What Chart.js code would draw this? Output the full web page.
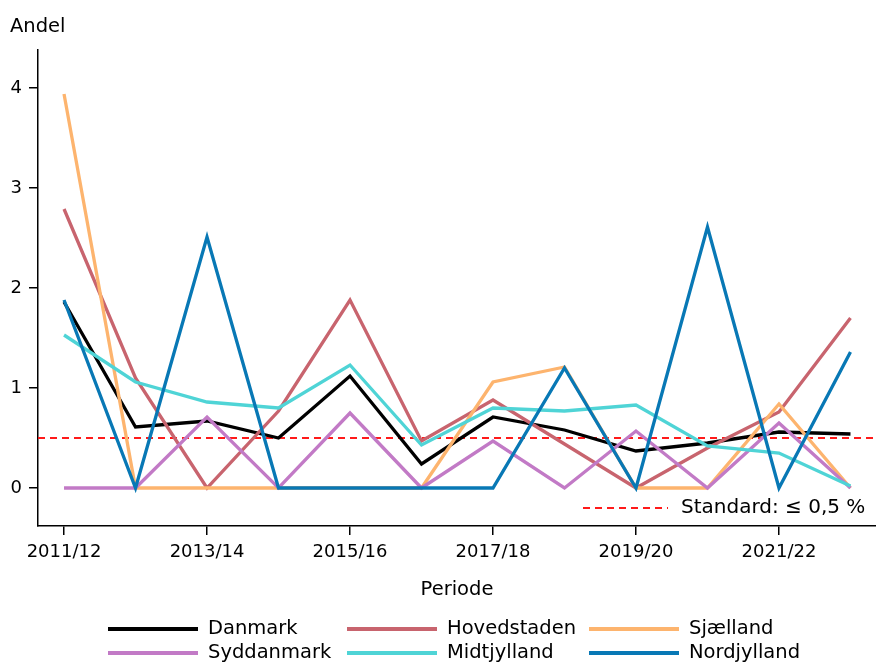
<!DOCTYPE html>
<html>
<head>
<meta charset="utf-8">
<script src="https://cdn.jsdelivr.net/npm/chart.js@4/dist/chart.umd.min.js"></script>
<style>
  html, body { margin: 0; padding: 0; background: #fff; }
  canvas { display: block; }
</style>
</head>
<body>
<canvas id="andel-chart" width="876" height="664"></canvas>
<script>
const periods = ["2011/12", "2012/13", "2013/14", "2014/15", "2015/16", "2016/17",
                 "2017/18", "2018/19", "2019/20", "2020/21", "2021/22", "2022/23"];

const danmark     = [1.86, 0.61, 0.67, 0.50, 1.12, 0.24, 0.71, 0.58, 0.37, 0.45, 0.56, 0.54];
const hovedstaden = [2.79, 1.10, 0.00, 0.77, 1.88, 0.47, 0.88, 0.44, 0.00, 0.40, 0.76, 1.70];
const sjaelland   = [3.94, 0.00, 0.00, 0.00, 0.00, 0.00, 1.06, 1.21, 0.00, 0.00, 0.84, 0.00];
const syddanmark  = [0.00, 0.00, 0.71, 0.00, 0.75, 0.00, 0.47, 0.00, 0.57, 0.00, 0.65, 0.00];
const midtjylland = [1.53, 1.06, 0.86, 0.80, 1.23, 0.43, 0.80, 0.77, 0.83, 0.42, 0.35, 0.02];
const nordjylland = [1.88, 0.00, 2.51, 0.00, 0.00, 0.00, 0.00, 1.20, 0.00, 2.61, 0.00, 1.36];

const standard = 0.5;
const xTicks = [0, 2, 4, 6, 8, 10];
const yTicks = [0, 1, 2, 3, 4];

const FONT = "DejaVu Sans";

const series = [
    { label: "Danmark",     values: danmark,     color: "#000000" },
    { label: "Hovedstaden", values: hovedstaden, color: "#c8646e" },
    { label: "Sjælland",    values: sjaelland,   color: "#fdb46e" },
    { label: "Syddanmark",  values: syddanmark,  color: "#c27ac6" },
    { label: "Midtjylland", values: midtjylland, color: "#4fd4d6" },
    { label: "Nordjylland", values: nordjylland, color: "#0878b5" }
];

const xMin = -0.364;
const xMax = 11.357;

const datasets = series.map((s, i) => ({
    label: s.label,
    data: s.values.map((v, j) => ({ x: j, y: v })),
    borderColor: s.color,
    backgroundColor: s.color,
    borderWidth: 3.3,
    pointRadius: 0,
    tension: 0,
    fill: false,
    order: series.length - i
}));

datasets.push({
    label: "Standard: ≤ 0,5 %",
    data: [{ x: xMin, y: standard }, { x: xMax, y: standard }],
    borderColor: "#ff1a1a",
    borderWidth: 1.8,
    borderDash: [7, 5],
    pointRadius: 0,
    fill: false,
    order: 20,
    isStandard: true
});

// texts outside the plot: axis titles and legends
const extras = {
    id: "extras",
    afterDraw(chart) {
        const c = chart.ctx;
        c.save();
        c.fillStyle = "#000";
        c.font = `19.5px "${FONT}"`;
        c.textBaseline = "alphabetic";
        c.textAlign = "left";
        c.fillText("Andel", 10, 32);

        c.textAlign = "center";
        c.textBaseline = "middle";
        c.fillText("Periode", (chart.chartArea.left + chart.chartArea.right) / 2, 590);

        // standard legend inside plot
        const std = chart.data.datasets.find(d => d.isStandard);
        c.strokeStyle = std.borderColor;
        c.lineWidth = std.borderWidth;
        c.setLineDash(std.borderDash);
        c.beginPath();
        c.moveTo(583, 508);
        c.lineTo(668, 508);
        c.stroke();
        c.setLineDash([]);
        c.textAlign = "left";
        c.fillStyle = "#000";
        c.font = `20px "${FONT}"`;
        c.fillText(std.label, 681, 508);

        // series legend, 3 columns x 2 rows
        c.font = `19.5px "${FONT}"`;
        const cols = [108, 347, 589];
        const rows = [629, 653];
        chart.data.datasets.filter(d => !d.isStandard).forEach((d, i) => {
            const x = cols[i % 3];
            const y = rows[Math.floor(i / 3)];
            c.strokeStyle = d.borderColor;
            c.lineWidth = 4;
            c.beginPath();
            c.moveTo(x, y);
            c.lineTo(x + 90, y);
            c.stroke();
            c.fillStyle = "#000";
            c.fillText(d.label, x + 100, y);
        });
        c.restore();
    }
};

const axisStyle = {
    grid: {
        display: true,
        drawOnChartArea: false,
        drawTicks: true,
        tickLength: 9,
        color: "#000",
        lineWidth: 1.5
    },
    border: { display: true, color: "#000", width: 1.5 },
    ticks: {
        color: "#000",
        padding: 7,
        font: { family: FONT, size: 18 }
    }
};

const config = {
    type: "line",
    data: { datasets: datasets },
    options: {
        responsive: false,
        animation: false,
        layout: { padding: { top: 50, left: 0, right: 0, bottom: 0 } },
        plugins: {
            legend: { display: false },
            tooltip: { enabled: false }
        },
        scales: {
            x: {
                type: "linear",
                min: xMin,
                max: xMax,
                grid: axisStyle.grid,
                border: axisStyle.border,
                ticks: Object.assign({}, axisStyle.ticks, {
                    maxRotation: 0,
                    autoSkip: false,
                    callback: (v) => periods[v] ?? ""
                }),
                afterBuildTicks: (s) => { s.ticks = xTicks.map(v => ({ value: v })); },
                afterFit: (s) => { s.height = 138; }
            },
            y: {
                type: "linear",
                min: -0.38,
                max: 4.38,
                grid: axisStyle.grid,
                border: axisStyle.border,
                ticks: Object.assign({}, axisStyle.ticks, {
                    callback: (v) => String(v)
                }),
                afterBuildTicks: (s) => { s.ticks = yTicks.map(v => ({ value: v })); },
                afterFit: (s) => { s.width = 38; }
            }
        }
    },
    plugins: [extras]
};

const andel_chart = new Chart(document.getElementById("andel-chart").getContext("2d"), config);
</script>
</body>
</html>
